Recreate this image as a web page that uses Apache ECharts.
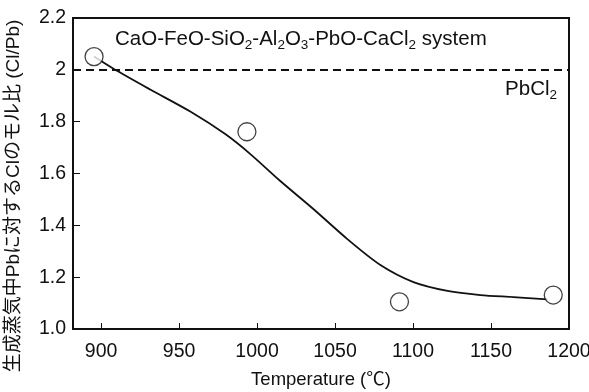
<!DOCTYPE html>
<html><head><meta charset="utf-8">
<script src="https://cdn.jsdelivr.net/npm/echarts@6/dist/echarts.min.js"></script>
<style>html,body{margin:0;padding:0;background:#fff}#c{width:589px;height:392px}</style>
</head><body><div id="c"></div>
<script>
// measured points
const temperatures = [895.5, 993.5, 1091.3, 1189.9];
const ratios = [2.051, 1.761, 1.105, 1.131];
// hand-drawn trend curve
const curveT = [895.5, 907.7, 931.5, 957.2, 979.6, 995.7, 1014.9, 1036.1, 1057.9, 1079.1, 1100.3, 1122.1, 1143.2, 1164.4, 1186.3];
const curveR = [2.051, 2.005, 1.924, 1.839, 1.752, 1.675, 1.571, 1.463, 1.347, 1.247, 1.181, 1.147, 1.131, 1.123, 1.114];
const xTicks = [900, 950, 1000, 1050, 1100, 1150, 1200];
const yTicks = [1.0, 1.2, 1.4, 1.6, 1.8, 2.0, 2.2];
const yTickLabels = ['1.0', '1.2', '1.4', '1.6', '1.8', '2', '2.2'];
const pbcl2Ratio = 2.0;
const xMin = 882, xMax = 1200;
const yTitle = '生成蒸気中Pbに対するClのモル比 (Cl/Pb)';
const xTitle = 'Temperature (℃)';

const FONT = "'Liberation Sans','Noto Sans CJK JP',Arial,sans-serif";
const chart = echarts.init(document.getElementById('c'), null, {renderer: 'canvas'});

const points = temperatures.map((t, i) => [t, ratios[i]]);
const curve = curveT.map((t, i) => [t, curveR[i]]);

chart.setOption({
  animation: false,
  backgroundColor: '#fff',
  grid: {left: 73, right: 20, top: 18, bottom: 63, show: true, borderColor: '#111', borderWidth: 2,
         containLabel: false, outerBoundsMode: 'none'},
  xAxis: {
    type: 'value', min: xMin, max: xMax,
    name: xTitle, nameLocation: 'middle', nameGap: 42,
    nameTextStyle: {fontFamily: FONT, fontSize: 18.5, color: '#111'},
    axisLine: {show: true, lineStyle: {color: '#111', width: 2}},
    axisTick: {show: true, inside: true, length: 6, lineStyle: {color: '#111', width: 1}, customValues: xTicks},
    axisLabel: {fontFamily: FONT, fontSize: 19.5, color: '#111', margin: 13, customValues: xTicks,
      formatter: v => String(v)},
    splitLine: {show: false}
  },
  yAxis: {
    type: 'value', min: 1.0, max: 2.2, interval: 0.2,
    axisLine: {show: true, lineStyle: {color: '#111', width: 2}},
    axisTick: {show: true, inside: true, length: 7, lineStyle: {color: '#111', width: 1}},
    axisLabel: {fontFamily: FONT, fontSize: 19.5, color: '#111', margin: 7,
      formatter: v => {
        const i = yTicks.findIndex(t => Math.abs(t - v) < 1e-6);
        return i >= 0 ? yTickLabels[i] : '';
      }},
    splitLine: {show: false}
  },
  series: [
    {
      type: 'line', data: curve, smooth: 0.3, showSymbol: false, symbol: 'none',
      lineStyle: {color: '#111', width: 1.8}, z: 2,
      markLine: {
        silent: true, symbol: 'none', label: {show: false},
        lineStyle: {color: '#111', width: 2, type: [8, 5]},
        data: [{yAxis: pbcl2Ratio}]
      }
    },
    {
      type: 'scatter', data: points, symbol: 'circle', symbolSize: 18,
      itemStyle: {color: '#fff', borderColor: '#111', borderWidth: 1.3}, z: 5
    }
  ],
  graphic: [
    {
      type: 'text', x: 14, y: 196, rotation: Math.PI / 2, z: 10,
      style: {text: yTitle, font: '19px ' + FONT, fill: '#111', align: 'center', verticalAlign: 'middle'}
    },
    {
      type: 'text', left: 115, top: 29, z: 10,
      style: {
        text: 'CaO-FeO-SiO{s|2}-Al{s|2}O{s|3}-PbO-CaCl{s|2} system',
        font: '20.5px ' + FONT, fill: '#111',
        rich: {s: {fontSize: 13.5, fontFamily: FONT, fill: '#111', verticalAlign: 'bottom', lineHeight: 26}}
      }
    },
    {
      type: 'text', right: 32, top: 79, z: 10,
      style: {
        text: 'PbCl{s|2}',
        font: '20.5px ' + FONT, fill: '#111',
        rich: {s: {fontSize: 13.5, fontFamily: FONT, fill: '#111', verticalAlign: 'bottom', lineHeight: 26}}
      }
    }
  ]
});
</script></body></html>
